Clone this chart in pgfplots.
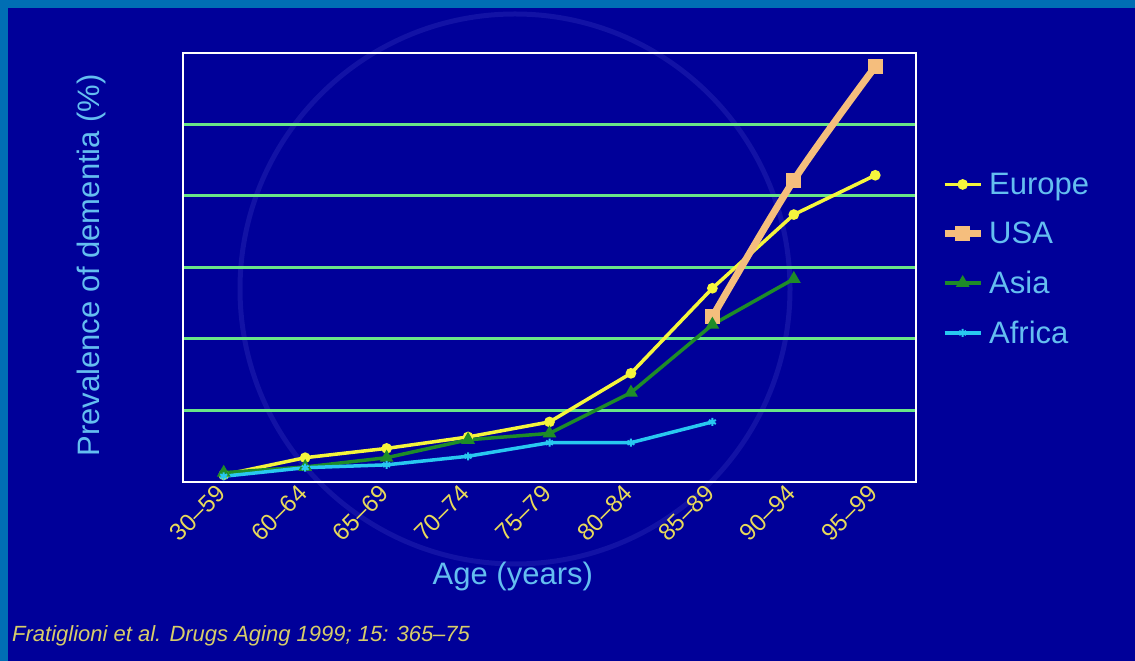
\documentclass[border=0pt]{standalone}
\usepackage{pgfplots}
\pgfplotsset{compat=1.18}
\usepackage{fontspec}
\setmainfont{Liberation Sans}

\definecolor{slidebg}{RGB}{0,0,153}
\definecolor{slideband}{RGB}{0,110,180}
\definecolor{gridgreen}{RGB}{105,230,135}
\definecolor{europe}{RGB}{245,245,60}
\definecolor{usa}{RGB}{245,190,125}
\definecolor{asia}{RGB}{30,140,40}
\definecolor{africa}{RGB}{40,200,240}
\definecolor{labelblue}{RGB}{100,190,240}
\definecolor{ticky}{RGB}{232,218,90}
\definecolor{citey}{RGB}{215,205,105}
\definecolor{faintring}{RGB}{18,18,165}

\begin{document}
\begin{tikzpicture}[x=1pt,y=1pt]
% slide background and frame bands
\fill[slidebg] (0,0) rectangle (1135,661);
\fill[slideband] (0,653) rectangle (1135,661);
\fill[slideband] (0,0) rectangle (8,661);
\draw[faintring, line width=5pt] (515,372) circle (275);
\useasboundingbox (0,0) rectangle (1135,661);

\begin{axis}[
  at={(183pt,179pt)}, anchor=south west,
  scale only axis, width=733pt, height=429pt,
  xmin=-0.5, xmax=8.5, ymin=0, ymax=6,
  xtick={0,...,8},
  xticklabels={30--59,60--64,65--69,70--74,75--79,80--84,85--89,90--94,95--99},
  minor xtick={0.5,1.5,...,7.5},
  ytick={1,...,5}, yticklabels={},
  ymajorgrids, grid style={gridgreen, line width=3pt},
  axis line style={white, line width=2.5pt},
  major tick length=0pt, minor tick length=3pt, tick align=inside,
  minor tick style={draw=slidebg, line width=2pt},
  xticklabel style={font=\fontsize{24}{24}\selectfont, text=ticky,
    yshift=-5pt, rotate=45, anchor=east},
  xlabel={Age (years)},
  ylabel={Prevalence of dementia (\%)},
  label style={font=\fontsize{31}{31}\selectfont, text=labelblue},
  xlabel style={at={(axis description cs:0.45,-0.22)}, anchor=center},
  ylabel style={at={(axis description cs:-0.125,0.505)}, anchor=center},
  legend style={at={(axis description cs:1.03,0.73)}, anchor=north west,
    draw=none, fill=none, font=\fontsize{31}{31}\selectfont, text=labelblue,
    row sep=22pt, nodes={inner xsep=5pt}},
  legend cell align=left,
  legend image code/.code={\draw[mark repeat=2,mark phase=2,#1]
    plot coordinates {(0pt,0pt) (18pt,0pt) (36pt,0pt)};},
]
\addplot[europe, line width=3.5pt, mark=*, mark size=3.5pt]
  coordinates {(0,0.10) (1,0.34) (2,0.47) (3,0.63) (4,0.84) (5,1.52) (6,2.71) (7,3.74) (8,4.29)};
\addlegendentry{Europe}
\addplot[usa, line width=7pt, smooth, mark=square*, mark size=4pt]
  coordinates {(6,2.31) (7,4.22) (8,5.81)};
\addlegendentry{USA}
\addplot[asia, line width=3.5pt, mark=triangle*, mark size=4.5pt]
  coordinates {(0,0.13) (1,0.21) (2,0.34) (3,0.59) (4,0.68) (5,1.25) (6,2.20) (7,2.84)};
\addlegendentry{Asia}
\addplot[africa, line width=3.5pt, mark=asterisk, mark size=4pt, mark options={line width=2pt}]
  coordinates {(0,0.08) (1,0.20) (2,0.24) (3,0.36) (4,0.55) (5,0.55) (6,0.84)};
\addlegendentry{Africa}
\end{axis}

\node[anchor=west, font=\fontsize{22}{22}\selectfont\itshape, text=citey, inner sep=0pt]
  at (12,25) {Fratiglioni et al. Drugs Aging 1999; 15: 365--75};
\end{tikzpicture}
\end{document}
